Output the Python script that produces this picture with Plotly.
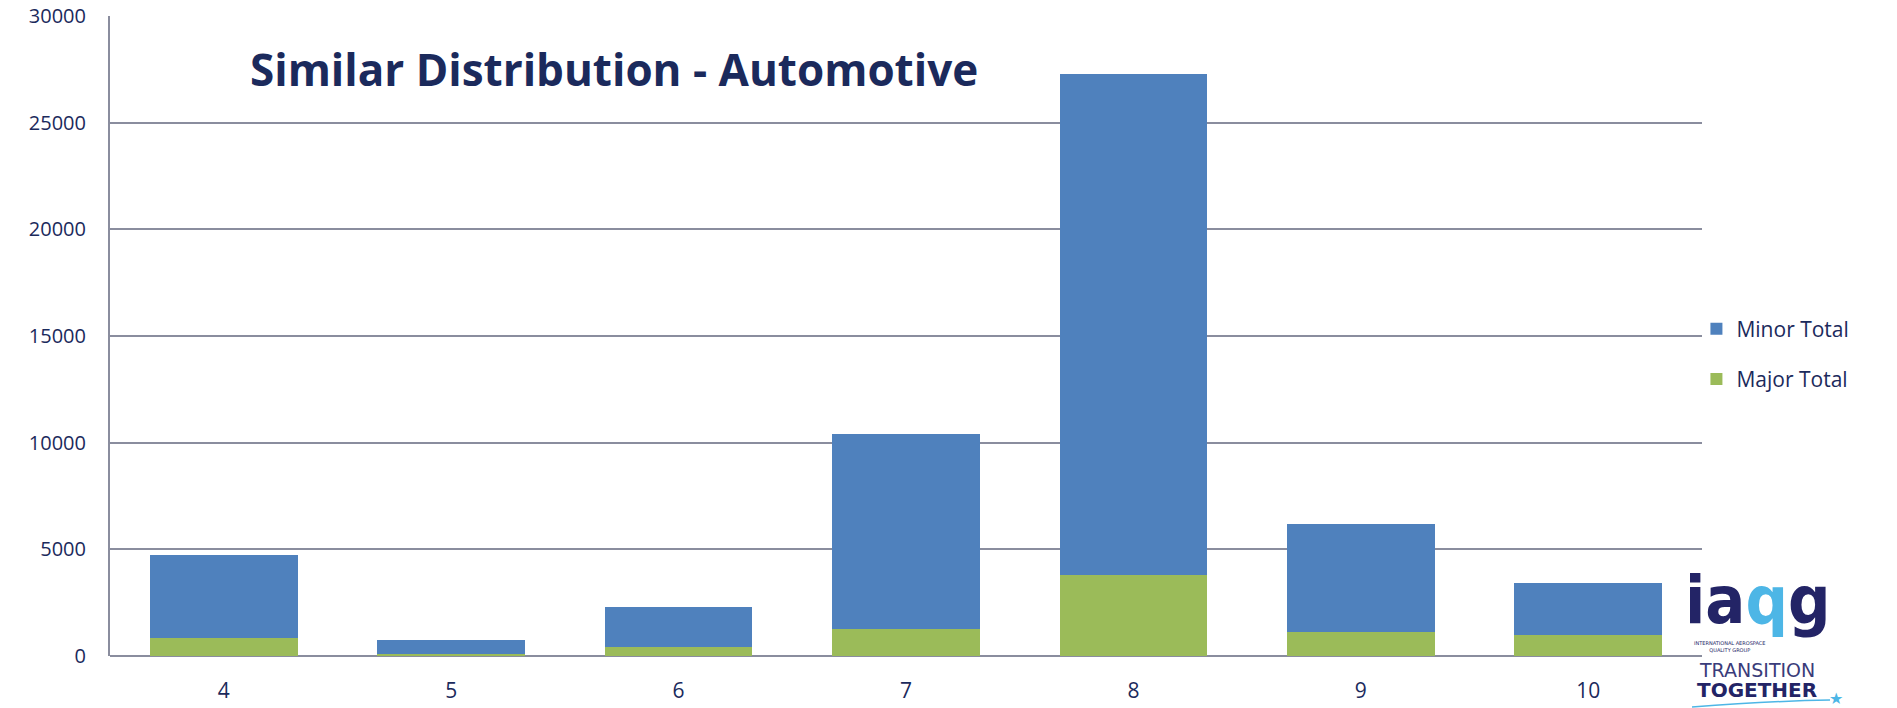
import plotly.graph_objects as go

categories = ["4", "5", "6", "7", "8", "9", "10"]
major_total = [840, 110, 400, 1270, 3820, 1140, 990]
minor_total = [3890, 635, 1910, 9130, 23480, 5070, 2440]
y_ticks = [0, 5000, 10000, 15000, 20000, 25000, 30000]
y_tick_labels = ["0", "5000", "10000", "15000", "20000", "25000", "30000"]

NAVY = "#1B2A5C"
GRID = "#8A8D9E"
BLUE = "#4F81BD"
GREEN = "#9BBB59"
LIGHT = "#4DB6E6"

fig = go.Figure()
fig.add_trace(go.Bar(x=categories, y=major_total, name="Major Total", legendrank=2,
                     marker=dict(color=GREEN, line=dict(width=0)), legendgroup="b"))
fig.add_trace(go.Bar(x=categories, y=minor_total, name="Minor Total", legendrank=1,
                     marker=dict(color=BLUE, line=dict(width=0)), legendgroup="a"))

L, R, T, B = 110, 195, 16, 52
W, H = 1897, 708
pw, ph = W - L - R, H - T - B

def px(x):
    return (x - L) / pw

def py(y):
    return (H - B - y) / ph

fig.update_layout(
    width=W, height=H,
    barmode="stack", bargap=0.35,
    margin=dict(l=L, r=R, t=T, b=B, autoexpand=False),
    paper_bgcolor="white", plot_bgcolor="white",
    font=dict(family="Open Sans", color=NAVY, size=21),
    legend=dict(traceorder="grouped", x=0.9965, xanchor="left", y=py(354), yanchor="middle",
                font=dict(size=21, color=NAVY), tracegroupgap=20,
                itemwidth=30, bgcolor="rgba(0,0,0,0)"),
    xaxis=dict(type="category", showgrid=False, showline=False, ticks="", automargin=False,
               ticklabelstandoff=20, tickfont=dict(size=21, color=NAVY)),
    yaxis=dict(range=[0, 30000], tickvals=y_ticks, ticktext=y_tick_labels, showgrid=True,
               gridcolor=GRID, automargin=False,
               gridwidth=2, zeroline=True, zerolinecolor=GRID, zerolinewidth=2,
               showline=True, linecolor=GRID, linewidth=2, ticks="",
               ticklabelstandoff=18, tickfont=dict(size=20, color=NAVY)),
)

annotations = [
    dict(text="<b>Similar Distribution - Automotive</b>", x=px(248), y=py(69),
         xanchor="left", yanchor="middle", font=dict(size=44, color=NAVY, family="Open Sans")),
    dict(text="<b>ia<span style='color:%s'>q</span>g</b>" % LIGHT, x=px(1757), y=py(600),
         xanchor="center", yanchor="middle",
         font=dict(size=66, color="#232466", family="DejaVu Sans Condensed")),
    dict(text="INTERNATIONAL AEROSPACE<br>QUALITY GROUP", x=px(1730), y=py(646),
         xanchor="center", yanchor="middle", font=dict(size=5, color="#232466", family="DejaVu Sans")),
    dict(text="TRANSITION", x=px(1757), y=py(670), xanchor="center", yanchor="middle",
         font=dict(size=19, color="#3A3C7A", family="DejaVu Sans")),
    dict(text="<b>TOGETHER</b>", x=px(1757), y=py(690), xanchor="center", yanchor="middle",
         font=dict(size=20, color="#232466", family="DejaVu Sans")),
    dict(text="★", x=px(1836), y=py(698), xanchor="center", yanchor="middle",
         font=dict(size=16, color=LIGHT)),
]
for a in annotations:
    a.update(xref="paper", yref="paper", showarrow=False)
fig.update_layout(annotations=annotations)

fig.add_shape(type="path", xref="paper", yref="paper",
              path="M %f,%f Q %f,%f %f,%f" % (px(1692), py(707), px(1770), py(701), px(1830), py(700)),
              line=dict(color=LIGHT, width=1.5))

fig.write_html("out.html", config={"displayModeBar": False},
               post_script="document.body.style.margin='0';")
